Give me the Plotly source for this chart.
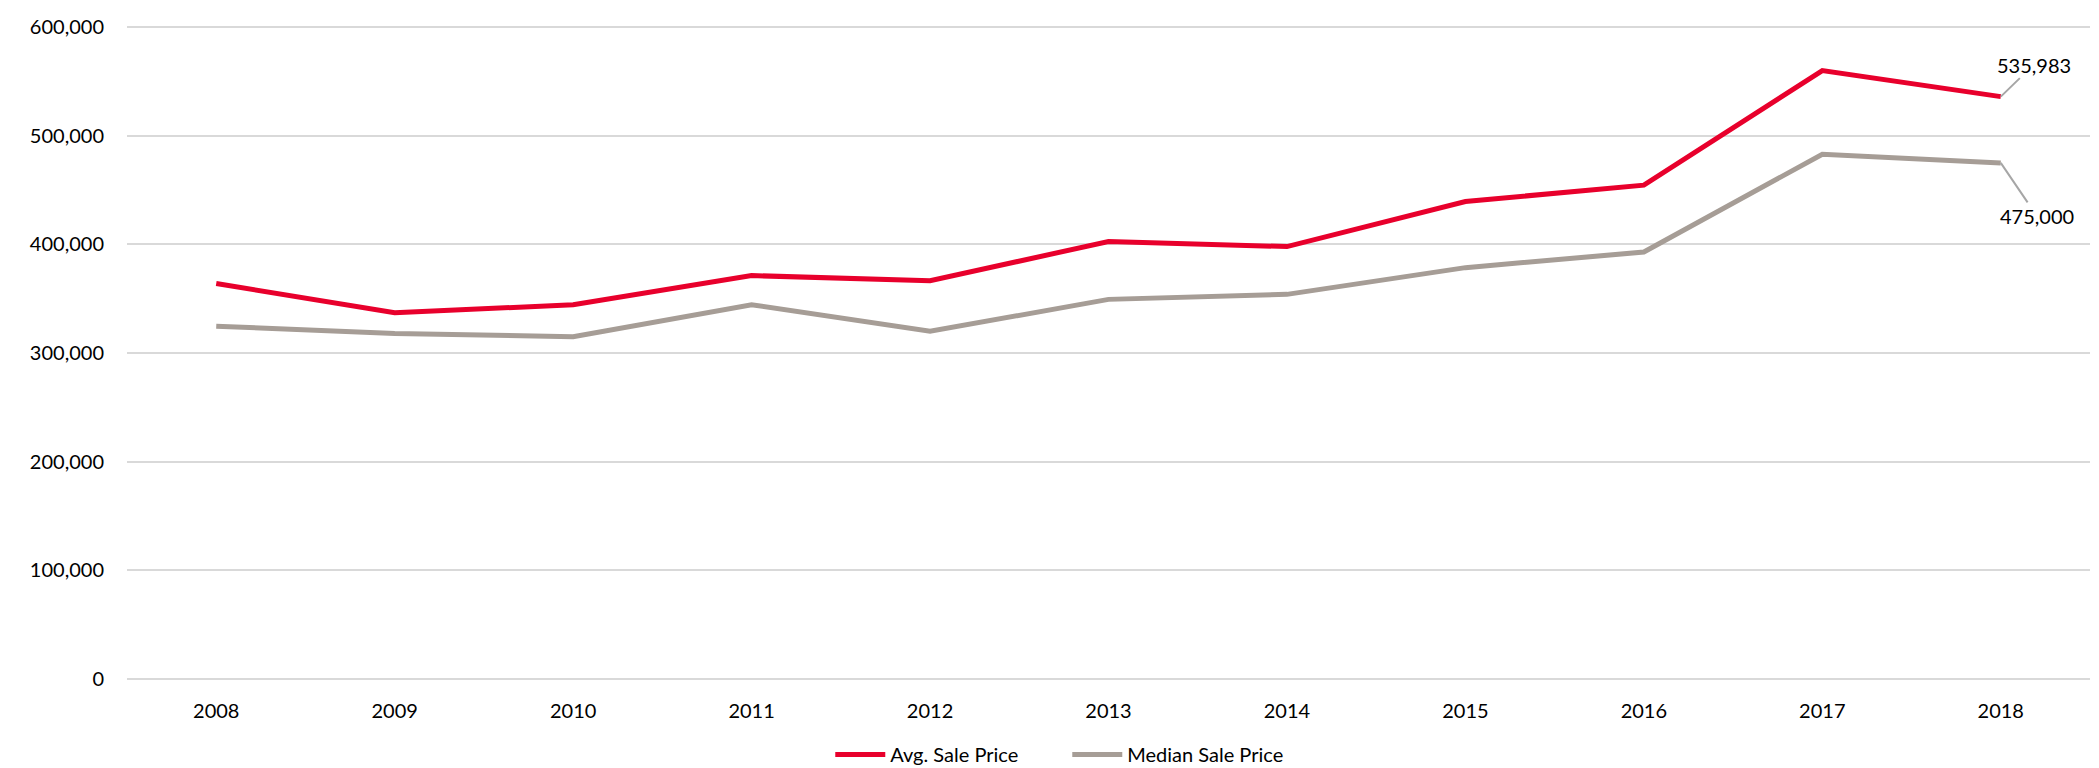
import plotly.graph_objects as go

years = ["2008", "2009", "2010", "2011", "2012", "2013", "2014", "2015", "2016", "2017", "2018"]
avg_price = [364000, 337000, 344500, 371300, 366500, 402700, 398000, 439500, 454500, 560000, 535983]
median_price = [324700, 318000, 315000, 344500, 320000, 349400, 354000, 378600, 393000, 483000, 475000]

RED = "#E8002C"
GRAY = "#A69D96"
FONT = "Lato, Calibri, sans-serif"

fig = go.Figure()
fig.add_trace(go.Scatter(x=years, y=avg_price, mode="lines", name="Avg. Sale Price",
                         line=dict(color=RED, width=5)))
fig.add_trace(go.Scatter(x=years, y=median_price, mode="lines", name="Median Sale Price",
                         line=dict(color=GRAY, width=5)))

last = len(years) - 1  # category index of the last year
fig.add_annotation(x=last, y=avg_price[-1], text=f"{avg_price[-1]:,}",
                   showarrow=True, arrowhead=0, arrowwidth=2, arrowcolor="#A6A6A6",
                   ax=33, ay=-32, font=dict(family=FONT, size=20, color="#000000"))
fig.add_annotation(x=last, y=median_price[-1], text=f"{median_price[-1]:,}",
                   showarrow=True, arrowhead=0, arrowwidth=2, arrowcolor="#A6A6A6",
                   ax=36, ay=53, font=dict(family=FONT, size=20, color="#000000"))

fig.update_layout(
    width=2099, height=768,
    margin=dict(l=119, r=17, t=18, b=97, autoexpand=False),
    paper_bgcolor="white", plot_bgcolor="white",
    font=dict(family=FONT, size=20, color="#000000"),
    showlegend=True,
    legend=dict(orientation="h", x=0.479, xanchor="center", xref="paper",
                y=0.028, yanchor="middle", yref="container",
                font=dict(family=FONT, size=20), itemwidth=50,
                entrywidth=172, entrywidthmode="pixels"),
    xaxis=dict(type="category", range=[-0.5, len(years) - 0.5], showgrid=False,
               showline=False, zeroline=False, ticks="", ticklabelstandoff=18,
               tickfont=dict(size=20), automargin=False),
    yaxis=dict(range=[0, 601000], tickvals=[0, 100000, 200000, 300000, 400000, 500000, 600000],
               tickformat=",", showgrid=True,
               gridcolor="#D9D9D9", gridwidth=1.5, zeroline=True, zerolinecolor="#D9D9D9",
               zerolinewidth=1.5, showline=False, ticks="", ticklabelstandoff=22,
               tickfont=dict(size=20), automargin=False),
)

fig.write_html("out.html")
